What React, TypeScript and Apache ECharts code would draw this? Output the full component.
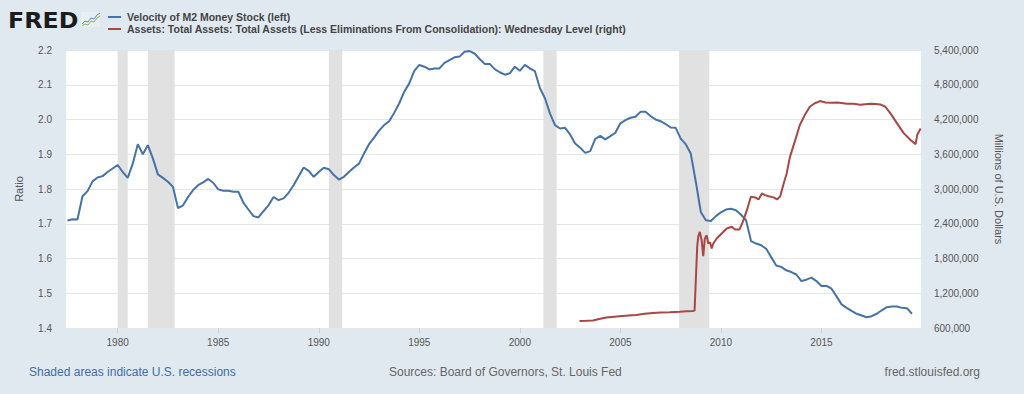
import React, { useEffect, useRef } from "react";
import * as echarts from "echarts";

// Velocity of M2 Money Stock, quarterly, first quarter = 1977 Q3
const velocityStart = 1977.5;
const velocityValues = [
  1.709, 1.713,
  1.712, 1.779, 1.794, 1.822,
  1.833, 1.837, 1.849, 1.859,
  1.869, 1.849, 1.832, 1.873,
  1.929, 1.9, 1.926, 1.888,
  1.842, 1.832, 1.821, 1.806,
  1.745, 1.753, 1.777, 1.797,
  1.811, 1.819, 1.829, 1.818,
  1.799, 1.795, 1.795, 1.792,
  1.792, 1.761, 1.741, 1.722,
  1.718, 1.736, 1.753, 1.777,
  1.768, 1.773, 1.789, 1.811,
  1.837, 1.862, 1.852, 1.835,
  1.849, 1.861, 1.857, 1.84,
  1.827, 1.835, 1.849, 1.862,
  1.873, 1.902, 1.929, 1.948,
  1.968, 1.984, 1.995, 2.019,
  2.046, 2.08, 2.104, 2.14,
  2.157, 2.152, 2.144, 2.147,
  2.147, 2.163, 2.171, 2.179,
  2.181, 2.195, 2.197, 2.19,
  2.174, 2.16, 2.16, 2.145,
  2.136, 2.129, 2.133, 2.152,
  2.14, 2.157, 2.147, 2.139,
  2.09, 2.061, 2.017, 1.984,
  1.974, 1.976, 1.957, 1.931,
  1.919, 1.904, 1.909, 1.944,
  1.953, 1.943, 1.952, 1.962,
  1.989, 1.998, 2.005, 2.008,
  2.022, 2.022, 2.01, 2.0,
  1.995, 1.987, 1.977, 1.976,
  1.945, 1.929, 1.902, 1.821,
  1.734, 1.71, 1.708, 1.722,
  1.733, 1.741, 1.743, 1.739,
  1.726, 1.71, 1.65, 1.643,
  1.638, 1.628, 1.604, 1.58,
  1.576, 1.566, 1.561, 1.554,
  1.535, 1.539, 1.545, 1.535,
  1.521, 1.521, 1.513, 1.491,
  1.468, 1.458, 1.449, 1.441,
  1.436, 1.431, 1.434, 1.441,
  1.451, 1.46, 1.462, 1.462,
  1.458, 1.457, 1.441,
];

// Total assets (millions of USD), dates in decimal years
const assetDates = [
  2002.97, 2003.3, 2003.63, 2004.0, 2004.3, 2004.96, 2005.4, 2005.79, 2006.2, 2006.62,
  2007.0, 2007.45, 2007.95, 2008.3, 2008.61, 2008.69, 2008.76, 2008.82, 2008.87, 2008.95,
  2009.04, 2009.12, 2009.2, 2009.29, 2009.37, 2009.46, 2009.54, 2009.62, 2009.79, 2010.04,
  2010.29, 2010.54, 2010.7, 2010.92, 2011.09, 2011.29, 2011.49, 2011.71, 2011.87, 2012.04,
  2012.2, 2012.37, 2012.62, 2012.79, 2012.95, 2013.12, 2013.27, 2013.43, 2013.68, 2013.92,
  2014.17, 2014.42, 2014.67, 2014.93, 2015.2, 2015.5, 2015.8, 2016.27, 2016.6, 2016.93,
  2017.43, 2017.7, 2017.93, 2018.18, 2018.43, 2018.76, 2019.1, 2019.43, 2019.68, 2019.76,
  2019.93,
];
const assetValues = [
  720000, 725000, 731000, 760000, 780000, 803000, 815000, 826000, 845000, 860000,
  866000, 872000, 882000, 890000, 895000, 900000, 1500000, 2000000, 2173000, 2260000,
  2120000, 1840000, 2145000, 2200000, 2060000, 2080000, 1972000, 2059000, 2145000, 2232000,
  2318000, 2347000, 2300000, 2300000, 2433000, 2634000, 2865000, 2855000, 2820000, 2923000,
  2894000, 2875000, 2855000, 2820000, 2875000, 3096000, 3269000, 3550000, 3827000, 4100000,
  4276000, 4420000, 4480000, 4518000, 4495000, 4490000, 4495000, 4472000, 4470000, 4455000,
  4472000, 4468000, 4460000, 4420000, 4306000, 4133000, 3960000, 3845000, 3775000, 3931000,
  4046000,
];

const recessions = [
  [1980.0, 1980.5],
  [1981.5, 1982.83],
  [1990.5, 1991.17],
  [2001.17, 2001.83],
  [2007.92, 2009.42],
];

const yearTicks = [1980, 1985, 1990, 1995, 2000, 2005, 2010, 2015];

const FONT = "'Liberation Sans', Arial, sans-serif";

export default function App() {
  const ref = useRef<HTMLDivElement>(null);
  useEffect(() => {
    if (!ref.current) return;
    const chart = echarts.init(ref.current, null, { renderer: "svg" });
    const velocityData = velocityValues.map((v, i) => [velocityStart + i * 0.25, v]);
    const assetData = assetDates.map((d, i) => [d, assetValues[i]]);
    const labelStyle = { color: "#555", fontSize: 10, fontFamily: FONT };
    chart.setOption({
      animation: false,
      backgroundColor: "#e1e9f0",
      grid: {
        left: 66,
        right: 103,
        top: 50,
        bottom: 66,
        show: true,
        backgroundColor: "#ffffff",
        borderWidth: 0,
      },
      xAxis: {
        type: "value",
        min: 1977.43,
        max: 2019.95,
        axisLine: { show: false },
        axisTick: {
          show: true,
          customValues: yearTicks,
          length: 5,
          lineStyle: { color: "#c6d2de" },
        },
        axisLabel: {
          customValues: yearTicks,
          formatter: (v: number) => String(Math.round(v)),
          margin: 9,
          ...labelStyle,
        },
        splitLine: { show: false },
      },
      yAxis: [
        {
          type: "value",
          position: "left",
          min: 1.4,
          max: 2.2,
          interval: 0.1,
          name: "Ratio",
          nameLocation: "middle",
          nameRotate: 90,
          nameGap: 42,
          nameTextStyle: { color: "#555", fontSize: 11, fontFamily: FONT },
          axisLine: { show: false },
          axisTick: { show: false },
          axisLabel: {
            formatter: (v: number) => v.toFixed(1),
            margin: 14,
            ...labelStyle,
          },
          splitLine: { lineStyle: { color: "#e6e6e6", width: 1 } },
        },
        {
          type: "value",
          position: "right",
          min: 600000,
          max: 5400000,
          interval: 600000,
          name: "Millions of U.S. Dollars",
          nameLocation: "middle",
          nameRotate: -90,
          nameGap: 72,
          nameTextStyle: { color: "#555", fontSize: 11, fontFamily: FONT },
          axisLine: { show: false },
          axisTick: { show: false },
          axisLabel: {
            formatter: (v: number) => Math.round(v).toLocaleString("en-US"),
            margin: 13,
            ...labelStyle,
          },
          splitLine: { show: false },
        },
      ],
      series: [
        {
          name: "recessions",
          type: "line",
          data: [],
          silent: true,
          z: 1,
          markArea: {
            silent: true,
            itemStyle: { color: "#e1e1e1" },
            data: recessions.map(([a, b]) => [{ xAxis: a }, { xAxis: b }]),
          },
        },
        {
          name: "Velocity of M2 Money Stock (left)",
          type: "line",
          yAxisIndex: 0,
          data: velocityData,
          showSymbol: false,
          symbol: "none",
          z: 3,
          lineStyle: { color: "#4572a7", width: 2 },
        },
        {
          name: "Assets: Total Assets: Total Assets (Less Eliminations From Consolidation): Wednesday Level (right)",
          type: "line",
          yAxisIndex: 1,
          data: assetData,
          showSymbol: false,
          symbol: "none",
          z: 4,
          lineStyle: { color: "#aa4643", width: 2 },
        },
      ],
      graphic: [
        {
          type: "text",
          x: 8,
          y: 10,
          scaleX: 1.13,
          style: {
            text: "FRED",
            fontSize: 21,
            fontWeight: "bold",
            fontFamily: "'DejaVu Sans', sans-serif",
            fill: "#1c1c1c",
          },
        },
        {
          type: "rect",
          shape: { x: 81, y: 12, width: 19, height: 15 },
          style: { fill: "#e9eef2" },
        },
        {
          type: "polyline",
          shape: { points: [[82, 24], [85, 21], [88, 22], [91, 18], [94, 19], [97, 15], [100, 13]] },
          style: { stroke: "#5b8ac4", lineWidth: 1, fill: "none" },
        },
        {
          type: "polyline",
          shape: { points: [[82, 26], [85, 24], [88, 25], [91, 21], [94, 22], [97, 18], [100, 16]] },
          style: { stroke: "#86b84a", lineWidth: 1, fill: "none" },
        },
        {
          type: "line",
          shape: { x1: 108, y1: 17, x2: 121, y2: 17 },
          style: { stroke: "#4572a7", lineWidth: 2 },
        },
        {
          type: "text",
          x: 127,
          y: 17,
          style: {
            text: "Velocity of M2 Money Stock (left)",
            fontSize: 10.5,
            fontWeight: "bold",
            fontFamily: FONT,
            fill: "#444",
            verticalAlign: "middle",
          },
        },
        {
          type: "line",
          shape: { x1: 108, y1: 29, x2: 121, y2: 29 },
          style: { stroke: "#aa4643", lineWidth: 2 },
        },
        {
          type: "text",
          x: 127,
          y: 29,
          style: {
            text: "Assets: Total Assets: Total Assets (Less Eliminations From Consolidation): Wednesday Level (right)",
            fontSize: 10.5,
            fontWeight: "bold",
            fontFamily: FONT,
            fill: "#444",
            verticalAlign: "middle",
          },
        },
        {
          type: "text",
          x: 29,
          y: 372,
          style: {
            text: "Shaded areas indicate U.S. recessions",
            fontSize: 12,
            fontFamily: FONT,
            fill: "#3d6ea8",
            verticalAlign: "middle",
          },
        },
        {
          type: "text",
          x: 389,
          y: 372,
          style: {
            text: "Sources: Board of Governors, St. Louis Fed",
            fontSize: 12,
            fontFamily: FONT,
            fill: "#666",
            verticalAlign: "middle",
          },
        },
        {
          type: "text",
          x: 980,
          y: 372,
          style: {
            text: "fred.stlouisfed.org",
            fontSize: 12,
            fontFamily: FONT,
            fill: "#666",
            align: "right",
            verticalAlign: "middle",
          },
        },
      ],
    });
    return () => chart.dispose();
  }, []);
  return (
    <div
      ref={ref}
      style={{ position: "fixed", left: 0, top: 0, width: 1024, height: 394 }}
    />
  );
}
